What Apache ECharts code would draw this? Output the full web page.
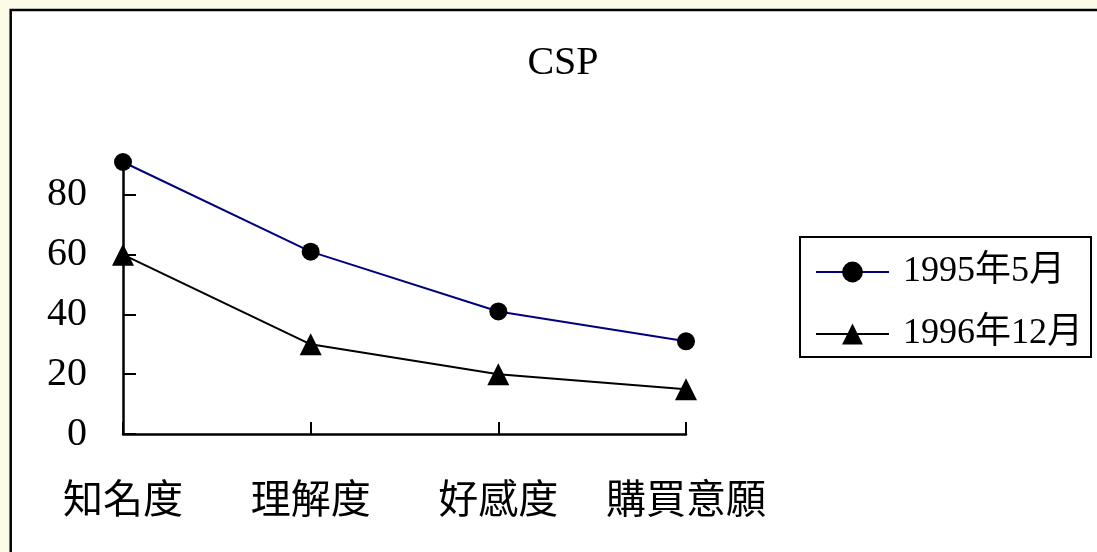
<!DOCTYPE html>
<html>
<head>
<meta charset="utf-8">
<script src="https://cdn.jsdelivr.net/npm/echarts@6/dist/echarts.min.js"></script>
<style>
  html, body { margin: 0; padding: 0; background: #fcfbe8; }
  #chart { width: 1097px; height: 552px; }
</style>
</head>
<body>
<div id="chart"></div>
<script>
// Survey stages on the x axis
const categories = ['知名度', '理解度', '好感度', '購買意願'];
// Series names and their values (%)
const seriesNames = ['1995年5月', '1996年12月'];
const may1995 = [91, 61, 41, 31];
const dec1996 = [60, 30, 20, 15];
// Tick labels on the value axis
const yTicks = [0, 20, 40, 60, 80];

const serif = "'Liberation Serif', 'Times New Roman', 'Noto Sans CJK TC', serif";
const cjk = "'Noto Sans CJK TC', 'Noto Sans CJK SC', sans-serif";

const chart = echarts.init(document.getElementById('chart'), null, { renderer: 'canvas' });

chart.setOption({
  backgroundColor: '#fcfbe8',
  animation: false,
  graphic: [{
    type: 'rect',
    z: -10,
    shape: { x: 10.7, y: 10, width: 1200, height: 700 },
    style: { fill: '#ffffff', stroke: '#000000', lineWidth: 2.5 }
  }],
  title: {
    text: 'CSP',
    left: 563,
    top: 44,
    textAlign: 'center',
    padding: 0,
    textStyle: { fontFamily: serif, fontSize: 40, fontWeight: 'normal', color: '#000' }
  },
  grid: {
    left: 123, right: 411, top: 162, bottom: 118,
    containLabel: false,
    outerBoundsMode: 'none'
  },
  xAxis: {
    type: 'category',
    data: categories,
    boundaryGap: false,
    axisLine: { show: true, lineStyle: { color: '#000', width: 2.5 } },
    axisTick: { show: true, inside: true, interval: 0, length: 12, lineStyle: { color: '#000', width: 2 } },
    axisLabel: { interval: 0, margin: 44, fontFamily: cjk, fontSize: 40, color: '#000' },
    splitLine: { show: false }
  },
  yAxis: {
    type: 'value',
    min: 0,
    max: 91,
    axisLine: { show: true, lineStyle: { color: '#000', width: 2.5 } },
    axisTick: { show: true, inside: true, length: 13, customValues: yTicks, lineStyle: { color: '#000', width: 2 } },
    axisLabel: { customValues: yTicks, margin: 36, padding: [12, 0, 0, 0], fontFamily: serif, fontSize: 40, color: '#000' },
    splitLine: { show: false }
  },
  legend: {
    orient: 'vertical',
    left: 800,
    top: 237,
    padding: [17, 8, 5, 15],
    itemWidth: 73,
    itemHeight: 26,
    itemGap: 26,
    borderColor: '#000',
    borderWidth: 2,
    borderRadius: 0,
    backgroundColor: '#fff',
    textStyle: { fontFamily: serif, fontSize: 36, color: '#000', padding: [0, 0, 0, 9] },
    data: seriesNames
  },
  series: [
    {
      name: seriesNames[0],
      type: 'line',
      data: may1995,
      clip: false,
      symbol: 'circle',
      symbolSize: 18,
      itemStyle: { color: '#000' },
      lineStyle: { color: '#000080', width: 2 }
    },
    {
      name: seriesNames[1],
      type: 'line',
      data: dec1996,
      clip: false,
      symbol: 'triangle',
      symbolSize: 22,
      itemStyle: { color: '#000' },
      lineStyle: { color: '#000', width: 2 }
    }
  ]
});
</script>
</body>
</html>
